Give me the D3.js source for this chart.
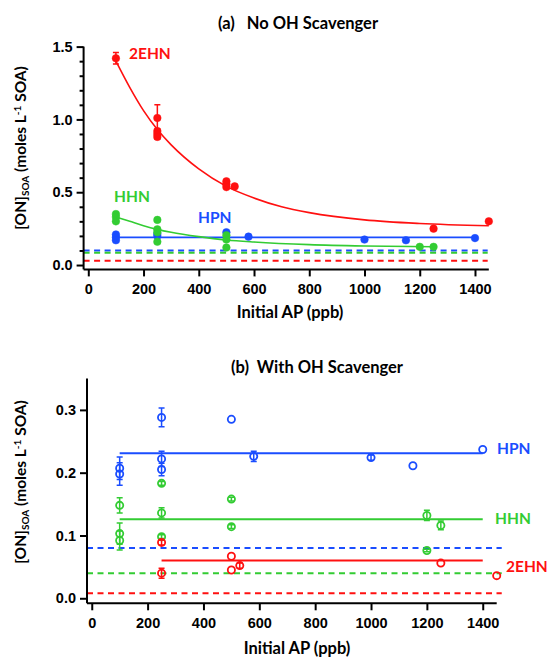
<!DOCTYPE html>
<html><head><meta charset="utf-8">
<script src="https://cdn.jsdelivr.net/npm/d3@7"></script>
<style>
body{margin:0;background:#fff;}
svg{display:block;}
.tick text{font-family:"Liberation Sans",Arial,sans-serif;font-weight:bold;font-size:14.5px;fill:#000;}
.lab{font-family:Lato,"Open Sans",sans-serif;font-weight:bold;}
</style></head>
<body>
<svg id="c" width="548" height="657"></svg>
<script>
// ---- data ----
const xTicks = [0,200,400,600,800,1000,1200,1400];
const yTicksA = [0.0,0.5,1.0,1.5];
const yMinorA = [0.1,0.2,0.3,0.4,0.6,0.7,0.8,0.9,1.1,1.2,1.3,1.4];
const yTicksB = [0.0,0.1,0.2,0.3];

// panel (a): [x, y, err]
const aRed = [[100,1.42,0.04],[250,1.01,0.09],[250,0.92,0.015],[250,0.90,0],[250,0.88,0.015],[500,0.575,0],[500,0.555,0],[500,0.535,0],[530,0.54,0],[1250,0.25,0],[1450,0.30,0]];
const aGreen = [[100,0.35,0],[100,0.33,0],[100,0.30,0],[250,0.31,0],[250,0.245,0],[250,0.225,0],[250,0.16,0],[500,0.205,0],[500,0.175,0],[500,0.12,0],[1200,0.125,0],[1250,0.125,0]];
const aBlue = [[100,0.21,0],[100,0.19,0],[100,0.17,0],[250,0.215,0],[250,0.20,0],[500,0.225,0],[580,0.195,0],[1000,0.175,0],[1150,0.17,0],[1400,0.185,0]];
// fitted curves (a)
const aRedFit = [[100,1.40],[150,1.22],[200,1.06],[250,0.93],[300,0.825],[400,0.66],[500,0.54],[600,0.46],[700,0.40],[800,0.36],[1000,0.31],[1200,0.285],[1450,0.27]];
const aGreenFit = [[100,0.33],[150,0.30],[200,0.27],[250,0.245],[300,0.225],[400,0.195],[500,0.172],[600,0.158],[800,0.14],[1000,0.131],[1250,0.126]];
const aBlueFit = [[100,0.19],[1400,0.19]];
const aBase = {blue:0.10, green:0.085, red:0.03};

// panel (b): [x, y, err]
const bBlue = [[100,0.207,0.018],[100,0.198,0.018],[250,0.288,0.015],[250,0.222,0.012],[250,0.205,0.01],[500,0.285,0],[580,0.226,0.008],[1000,0.224,0.004],[1150,0.211,0],[1400,0.237,0]];
const bGreen = [[100,0.148,0.012],[100,0.103,0.017],[100,0.092,0.015],[250,0.183,0.003],[250,0.136,0.008],[250,0.098,0.003],[500,0.158,0.003],[500,0.114,0.003],[1200,0.132,0.008],[1200,0.076,0.002],[1250,0.116,0.007]];
const bRed = [[250,0.089,0.004],[250,0.040,0.008],[500,0.067,0],[500,0.045,0],[530,0.052,0.004],[1250,0.056,0],[1450,0.036,0]];
const bFits = {blue:[100,1400,0.231], green:[100,1400,0.126], red:[250,1400,0.060]};
const bBase = {blue:0.08, green:0.04, red:0.008};

const COL = {red:"#ff1010", green:"#33cc33", blue:"#1a4dff"};

const svg = d3.select("#c");

function panel(o){
  const g = svg.append("g");
  const x = d3.scaleLinear().domain([-17,1450]).range(o.xr);
  const y = d3.scaleLinear().domain(o.yd).range(o.yr);
  // dashed baselines
  ["blue","green","red"].forEach(k=>{
    g.append("line").attr("x1",x(-17)).attr("x2",x(o.dashEnd))
     .attr("y1",y(o.base[k])).attr("y2",y(o.base[k]))
     .attr("stroke",COL[k]).attr("stroke-width",2).attr("stroke-dasharray","6,4.5");
  });
  // axes
  const xa = g.append("g").attr("transform",`translate(0,${o.yr[0]})`)
    .call(d3.axisBottom(x).tickValues(xTicks).tickSize(7).tickPadding(7).tickFormat(d3.format("d")));
  const ya = g.append("g").attr("transform",`translate(${o.xr[0]},0)`)
    .call(d3.axisLeft(y).tickValues(o.yTicks).tickSize(7).tickPadding(4).tickFormat(d3.format(".1f")));
  if(o.minor){
    g.append("g").attr("transform",`translate(${o.xr[0]},0)`)
     .call(d3.axisLeft(y).tickValues(o.minor).tickSize(4).tickFormat(""))
     .select(".domain").remove();
  }
  g.selectAll(".domain").attr("stroke","#000").attr("stroke-width",2);
  g.selectAll(".tick line").attr("stroke","#000").attr("stroke-width",2);
  xa.select(".domain").attr("d",`M${o.xr[0]},0H${o.xr[1]}`);
  ya.select(".domain").attr("d",`M0,${o.yr[0]}V${o.yr[1]}`);

  const line = d3.line().x(d=>x(d[0])).y(d=>y(d[1]));
  // fits
  o.fits.forEach(f=>{
    g.append("path").datum(f.pts).attr("d",line.curve(d3.curveMonotoneX))
     .attr("fill","none").attr("stroke",COL[f.c]).attr("stroke-width",f.w);
  });
  // points with error bars
  o.series.forEach(s=>{
    const sg = g.append("g");
    s.data.filter(d=>d[2]>0).forEach(d=>{
      const cx = x(d[0]);
      sg.append("path").attr("d",`M${cx},${y(d[1]-d[2])}V${y(d[1]+d[2])}M${cx-3},${y(d[1]-d[2])}H${cx+3}M${cx-3},${y(d[1]+d[2])}H${cx+3}`)
        .attr("stroke",COL[s.c]).attr("stroke-width",1.5).attr("fill","none");
    });
    sg.selectAll("circle").data(s.data).join("circle")
      .attr("cx",d=>x(d[0])).attr("cy",d=>y(d[1])).attr("r",o.open?3.6:3.8)
      .attr("fill",o.open?"#fff":COL[s.c]).attr("fill-opacity",o.open?0:1)
      .attr("stroke",COL[s.c]).attr("stroke-width",o.open?1.8:0.5);
  });
  // labels
  o.labels.forEach(l=>{
    g.append("text").attr("class","lab").attr("x",l.x).attr("y",l.y)
     .attr("fill",COL[l.c]).attr("font-size",15.5).text(l.t);
  });
  // title
  g.append("text").attr("class","lab").attr("x",o.title.x).attr("y",o.title.y)
   .attr("text-anchor","middle").attr("font-size",16.5).attr("xml:space","preserve")
   .style("white-space","pre").text(o.title.t);
  // x label
  g.append("text").attr("class","lab").attr("x",o.xl.x).attr("y",o.xl.y)
   .attr("text-anchor","middle").attr("font-size",16.5).text("Initial AP (ppb)");
  // y label
  const yt = g.append("text").attr("class","lab").attr("font-size",15.5)
    .attr("transform",`translate(${o.yl.x},${o.yl.y}) rotate(-90)`).attr("text-anchor","middle");
  yt.append("tspan").text("[ON]");
  yt.append("tspan").attr("font-size",10).attr("dy",3).text("SOA");
  yt.append("tspan").attr("dy",-3).text(" (moles L");
  yt.append("tspan").attr("font-size",10).attr("dy",-5).text("-1");
  yt.append("tspan").attr("dy",5).text(" SOA)");
}

panel({
  xr:[83.6,488.8], yd:[-0.03,1.5], yr:[269.4,46.6], yTicks:yTicksA, minor:yMinorA,
  base:aBase, dashEnd:1446, open:false,
  fits:[{pts:aBlueFit,c:"blue",w:1.6},{pts:aGreenFit,c:"green",w:1.6},{pts:aRedFit,c:"red",w:1.6}],
  series:[{data:aBlue,c:"blue"},{data:aGreen,c:"green"},{data:aRed,c:"red"}],
  labels:[{t:"2EHN",c:"red",x:129,y:59},{t:"HHN",c:"green",x:114,y:202},{t:"HPN",c:"blue",x:198,y:223}],
  title:{t:"(a)   No OH Scavenger",x:298,y:29},
  xl:{x:290,y:318}, yl:{x:26,y:148}
});
panel({
  xr:[87,496.7], yd:[-0.008,0.35], yr:[603.3,378.5], yTicks:yTicksB, minor:null,
  base:bBase, dashEnd:1468, open:true,
  fits:[{pts:[[bFits.blue[0],bFits.blue[2]],[bFits.blue[1],bFits.blue[2]]],c:"blue",w:2},
        {pts:[[bFits.green[0],bFits.green[2]],[bFits.green[1],bFits.green[2]]],c:"green",w:2},
        {pts:[[bFits.red[0],bFits.red[2]],[bFits.red[1],bFits.red[2]]],c:"red",w:2}],
  series:[{data:bBlue,c:"blue"},{data:bGreen,c:"green"},{data:bRed,c:"red"}],
  labels:[{t:"HPN",c:"blue",x:497,y:454},{t:"HHN",c:"green",x:495,y:524},{t:"2EHN",c:"red",x:506,y:572}],
  title:{t:"(b)  With OH Scavenger",x:317,y:373},
  xl:{x:297,y:654}, yl:{x:26,y:482}
});
</script>
</body></html>
